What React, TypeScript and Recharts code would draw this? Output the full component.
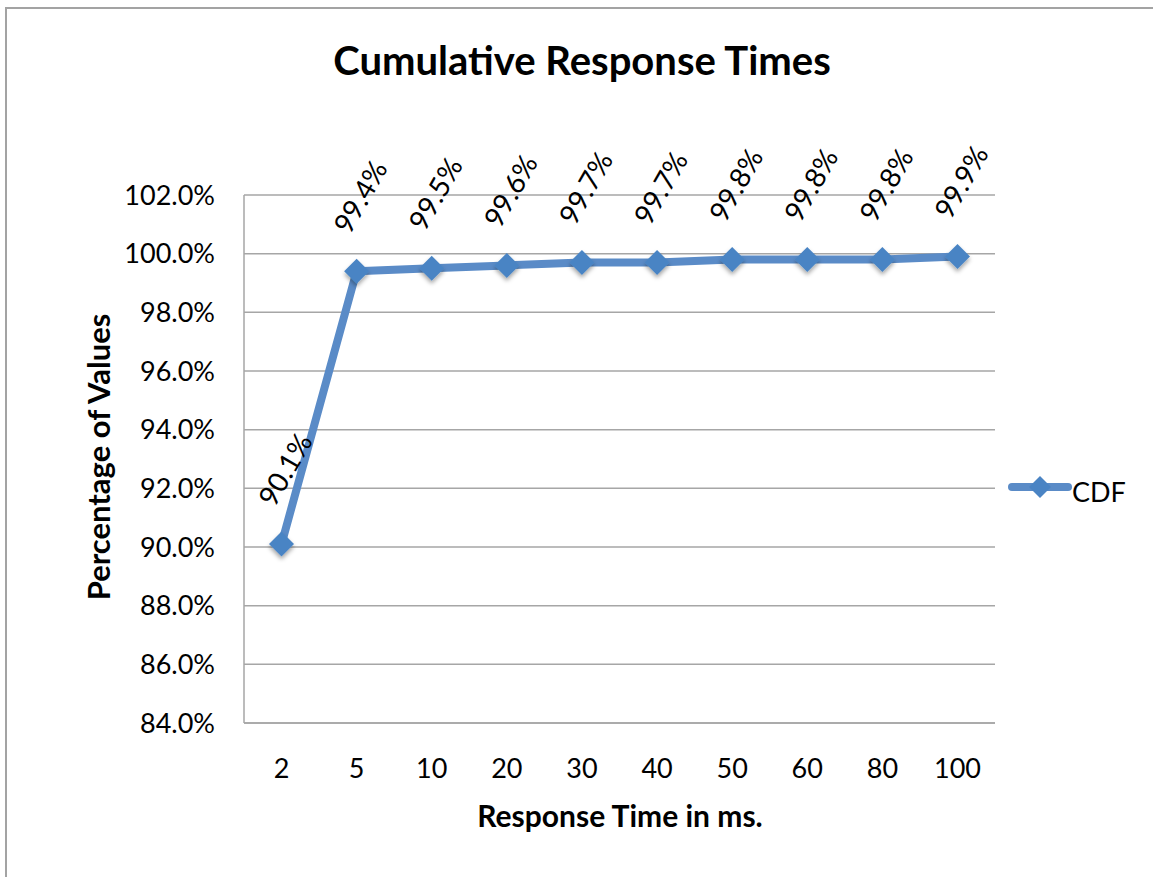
import { LineChart, Line, XAxis, YAxis, CartesianGrid, LabelList } from 'recharts';

const categories = ['2', '5', '10', '20', '30', '40', '50', '60', '80', '100'];
const cdfValues = [90.1, 99.4, 99.5, 99.6, 99.7, 99.7, 99.8, 99.8, 99.8, 99.9];
const yTicks = [84, 86, 88, 90, 92, 94, 96, 98, 100, 102];

const data = categories.map((c, i) => ({ category: c, value: cdfValues[i] }));

const FONT = 'Lato, "Open Sans", sans-serif';
const LINE_COLOR = '#5A8BC7';
const MARKER_COLOR = '#4A84C4';
const GRID = '#A6A6A6';

const renderDot = (props: any) => {
  const { cx, cy, index } = props;
  if (cx == null || cy == null) return <g key={`d-${index}`} />;
  const r = 12.5;
  return (
    <polygon
      key={`d-${index}`}
      points={`${cx},${cy - r} ${cx + r},${cy} ${cx},${cy + r} ${cx - r},${cy}`}
      fill={MARKER_COLOR}
      filter="url(#dotShadow)"
    />
  );
};

const renderLabel = (props: any) => {
  const { x, y, value, index } = props;
  const lx = x + 3;
  const ly = y - 75;
  return (
    <text
      key={`l-${index}`}
      x={lx}
      y={ly}
      transform={`rotate(-60, ${lx}, ${ly})`}
      textAnchor="middle"
      dominantBaseline="central"
      fontFamily={FONT}
      fontSize={28}
      fill="#000"
    >
      {`${Number(value).toFixed(1)}%`}
    </text>
  );
};

const App = () => {
  return (
    <div
      style={{
        position: 'fixed',
        left: 0,
        top: 0,
        width: 1153,
        height: 877,
        overflow: 'hidden',
        background: '#fff',
      }}
    >
      <LineChart
        width={1153}
        height={877}
        data={data}
        margin={{ top: 195, right: 158, bottom: 124, left: 164 }}
      >
        <defs>
          <filter id="dotShadow" x="-50%" y="-50%" width="200%" height="200%">
            <feDropShadow dx="0" dy="3" stdDeviation="2" floodColor="#000" floodOpacity="0.35" />
          </filter>
        </defs>
        {/* outer frame */}
        <path d="M6,877 V8 H1153" fill="none" stroke="#A3A3A3" strokeWidth={2} />
        <text
          x={582}
          y={60}
          textAnchor="middle"
          dominantBaseline="central"
          fontFamily={FONT}
          fontWeight={700}
          fontSize={40}
          fill="#000"
        >
          Cumulative Response Times
        </text>
        <text
          x={620}
          y={815}
          textAnchor="middle"
          dominantBaseline="central"
          fontFamily={FONT}
          fontWeight={700}
          fontSize={30}
          fill="#000"
        >
          Response Time in ms.
        </text>
        <text
          x={98}
          y={457}
          transform="rotate(-90, 98, 457)"
          textAnchor="middle"
          dominantBaseline="central"
          fontFamily={FONT}
          fontWeight={700}
          fontSize={31}
          fill="#000"
        >
          Percentage of Values
        </text>
        {/* legend */}
        <g>
          <line x1={1012} y1={487} x2={1068} y2={487} stroke={LINE_COLOR} strokeWidth={8} strokeLinecap="round" />
          <polygon
            points={`1040,${487 - 11} 1051,487 1040,${487 + 11} 1029,487`}
            fill={MARKER_COLOR}
          />
          <text
            x={1072}
            y={491}
            dominantBaseline="central"
            fontFamily={FONT}
            fontSize={27}
            fill="#000"
          >
            CDF
          </text>
        </g>
        <CartesianGrid vertical={false} stroke={GRID} strokeWidth={1.5} />
        <XAxis
          dataKey="category"
          height={30}
          tickLine={false}
          tickMargin={30}
          padding={{ left: 37.5, right: 37.5 }}
          axisLine={{ stroke: GRID, strokeWidth: 1.5 }}
          tick={{ fill: '#000', fontSize: 27, fontFamily: FONT }}
          interval={0}
        />
        <YAxis
          width={80}
          domain={[84, 102]}
          ticks={yTicks}
          tickLine={false}
          tickMargin={23}
          axisLine={{ stroke: GRID, strokeWidth: 1.5 }}
          tick={{ fill: '#000', fontSize: 27, fontFamily: FONT }}
          tickFormatter={(v: number) => `${v.toFixed(1)}%`}
          allowDataOverflow
        />
        <Line
          type="linear"
          dataKey="value"
          stroke={LINE_COLOR}
          strokeWidth={8}
          strokeLinejoin="round"
          dot={renderDot}
          activeDot={false}
          isAnimationActive={false}
        >
          <LabelList dataKey="value" content={renderLabel} />
        </Line>
      </LineChart>
    </div>
  );
};

export default App;
